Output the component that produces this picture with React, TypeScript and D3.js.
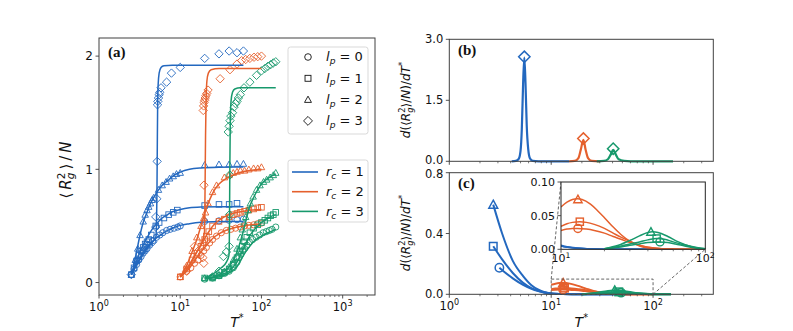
import React from 'react';
import * as d3 from 'd3';

type P = [number, number];
type Shape = 'circle' | 'square' | 'triangle' | 'diamond';

const BLUE = '#2368bf';
const ORANGE = '#e5602d';
const GREEN = '#17996c';
const AXIS = '#404040';
const FONT = 'DejaVu Sans, sans-serif';

// ---------- panel (a): <Rg^2>/N vs T*, fitted curves ----------
const fitA_r1_lp0: P[] = [[2.5, 0.07], [2.8, 0.14], [3.2, 0.22], [3.6, 0.28], [4, 0.32], [4.5, 0.36], [5, 0.39], [6, 0.43], [7, 0.46], [8, 0.48], [10, 0.505], [13, 0.52], [18, 0.533], [25, 0.538], [40, 0.54], [60, 0.54]];
const fitA_r1_lp1: P[] = [[2.5, 0.07], [2.8, 0.16], [3.2, 0.27], [3.6, 0.35], [4, 0.41], [4.5, 0.47], [5, 0.51], [6, 0.57], [7, 0.6], [8, 0.625], [10, 0.645], [13, 0.66], [18, 0.667], [30, 0.67], [60, 0.67]];
const fitA_r1_lp2: P[] = [[2.5, 0.07], [2.7, 0.16], [2.9, 0.27], [3.2, 0.42], [3.5, 0.53], [3.8, 0.6], [4.2, 0.68], [4.7, 0.75], [5.3, 0.81], [6, 0.86], [7, 0.9], [8.5, 0.95], [10, 0.975], [13, 1.0], [18, 1.012], [30, 1.018], [60, 1.02]];
const fitA_r1_lp3: P[] = [[2.5, 0.07], [3, 0.17], [3.5, 0.25], [4, 0.31], [4.6, 0.36], [5.0, 0.4], [5.1, 0.5], [5.17, 0.8], [5.22, 1.2], [5.27, 1.55], [5.35, 1.75], [5.5, 1.85], [5.8, 1.9], [6.3, 1.915], [8, 1.92], [20, 1.92], [60, 1.92]];

const fitA_r2_lp0: P[] = [[10, 0.05], [12, 0.1], [14, 0.16], [16, 0.22], [18, 0.27], [20, 0.31], [23, 0.36], [26, 0.4], [30, 0.43], [35, 0.455], [40, 0.47], [50, 0.49], [60, 0.5], [75, 0.51], [100, 0.52]];
const fitA_r2_lp1: P[] = [[10, 0.05], [12, 0.12], [14, 0.2], [16, 0.27], [18, 0.33], [20, 0.39], [23, 0.46], [26, 0.51], [30, 0.55], [35, 0.58], [40, 0.6], [50, 0.62], [60, 0.63], [75, 0.64], [100, 0.645]];
const fitA_r2_lp2: P[] = [[10, 0.05], [12, 0.15], [14, 0.27], [16, 0.38], [18, 0.5], [20, 0.61], [23, 0.73], [26, 0.81], [30, 0.87], [37, 0.92], [45, 0.95], [60, 0.98], [80, 0.995], [100, 1.0]];
const fitA_r2_lp3: P[] = [[10, 0.05], [13, 0.15], [16, 0.27], [19, 0.38], [19.9, 0.45], [20.2, 0.8], [20.5, 1.3], [20.8, 1.6], [21.3, 1.78], [22.2, 1.85], [24, 1.88], [30, 1.89], [100, 1.89]];

const fitA_r3_lp0: P[] = [[20, 0.03], [25, 0.04], [30, 0.05], [35, 0.065], [40, 0.085], [45, 0.11], [50, 0.14], [55, 0.19], [60, 0.24], [65, 0.28], [70, 0.31], [80, 0.36], [90, 0.39], [100, 0.41], [120, 0.44], [150, 0.47]];
const fitA_r3_lp1: P[] = [[20, 0.04], [25, 0.045], [30, 0.06], [35, 0.08], [40, 0.1], [45, 0.14], [50, 0.18], [55, 0.24], [60, 0.3], [65, 0.35], [70, 0.4], [80, 0.46], [90, 0.5], [100, 0.53], [120, 0.57], [150, 0.6]];
const fitA_r3_lp2: P[] = [[20, 0.04], [25, 0.05], [30, 0.07], [35, 0.1], [40, 0.14], [45, 0.2], [50, 0.27], [55, 0.36], [60, 0.46], [65, 0.56], [70, 0.65], [80, 0.75], [90, 0.82], [100, 0.87], [120, 0.92], [150, 0.96]];
const fitA_r3_lp3: P[] = [[20, 0.04], [26, 0.08], [32, 0.13], [37, 0.18], [39.8, 0.24], [40.4, 0.5], [40.8, 1.0], [41.3, 1.4], [42.2, 1.6], [44, 1.68], [47, 1.71], [55, 1.72], [150, 1.72]];

// ---------- panel (a): simulation points ----------
const datA_r1_lp0: P[] = [[2.5, 0.07], [2.7, 0.12], [2.9, 0.16], [3.1, 0.2], [3.3, 0.23], [3.5, 0.26], [3.7, 0.28], [3.9, 0.3], [4.2, 0.33], [4.6, 0.37], [5.1, 0.4], [5.6, 0.42], [6.1, 0.44], [6.8, 0.46], [7.5, 0.47], [8.4, 0.48], [9.3, 0.49], [10, 0.5], [20, 0.54], [30, 0.545], [40, 0.55], [50, 0.555], [60, 0.56]];
const datA_r1_lp1: P[] = [[2.5, 0.07], [2.7, 0.13], [2.9, 0.19], [3.1, 0.24], [3.3, 0.28], [3.5, 0.31], [3.7, 0.34], [3.9, 0.36], [4.1, 0.38], [4.4, 0.42], [5.0, 0.5], [5.5, 0.53], [6.3, 0.57], [7.2, 0.6], [8.2, 0.62], [9.2, 0.64], [20, 0.68], [30, 0.69], [40, 0.69], [50, 0.7]];
const datA_r1_lp2: P[] = [[2.5, 0.07], [2.8, 0.2], [3.0, 0.3], [3.2, 0.42], [3.5, 0.54], [3.7, 0.6], [3.9, 0.64], [4.1, 0.67], [4.3, 0.7], [4.5, 0.73], [4.7, 0.75], [5.4, 0.82], [6.0, 0.86], [6.7, 0.89], [7.4, 0.92], [8.2, 0.94], [9.0, 0.96], [10, 0.97], [20, 1.04], [30, 1.045], [40, 1.045], [50, 1.05], [60, 1.05]];
const datA_r1_lp3: P[] = [[2.5, 0.07], [3.0, 0.2], [3.5, 0.28], [4.0, 0.33], [4.6, 0.36], [5.0, 0.49], [5.0, 0.58], [5.15, 0.74], [5.2, 1.07], [5.25, 1.57], [5.3, 1.6], [5.4, 1.63], [5.5, 1.66], [5.6, 1.68], [5.8, 1.72], [6.8, 1.77], [7.8, 1.85], [10, 1.9], [20, 1.98], [30, 2.02], [40, 2.045], [50, 2.03], [60, 2.045]];

const datA_r2_lp0: P[] = [[10, 0.05], [12, 0.1], [13.5, 0.13], [15, 0.17], [16.5, 0.2], [18, 0.24], [19.5, 0.28], [21, 0.31], [23, 0.35], [25, 0.38], [28, 0.41], [32, 0.44], [37, 0.46], [42, 0.47], [48, 0.48], [55, 0.49], [62, 0.5], [70, 0.505], [80, 0.51], [90, 0.52], [100, 0.525]];
const datA_r2_lp1: P[] = [[10, 0.05], [12, 0.12], [14, 0.2], [16, 0.26], [18, 0.32], [19, 0.35], [20, 0.38], [21, 0.41], [22.5, 0.45], [25, 0.5], [30, 0.54], [35, 0.56], [40, 0.58], [45, 0.6], [50, 0.61], [55, 0.62], [62, 0.63], [70, 0.64], [80, 0.65], [90, 0.66], [100, 0.665]];
const datA_r2_lp2: P[] = [[10, 0.05], [12, 0.15], [14, 0.28], [16, 0.4], [18, 0.5], [19.5, 0.57], [20.5, 0.62], [22, 0.7], [25, 0.8], [28, 0.86], [35, 0.93], [40, 0.95], [45, 0.97], [50, 0.98], [55, 0.99], [62, 0.99], [70, 1.0], [80, 1.01], [90, 1.01], [100, 1.02]];
const datA_r2_lp3: P[] = [[12, 0.1], [15, 0.32], [17, 0.25], [19, 0.22], [19.5, 0.17], [19.6, 0.86], [19.2, 1.52], [19.4, 1.56], [19.7, 1.59], [20, 1.61], [20.3, 1.63], [20.7, 1.65], [21.2, 1.67], [22, 1.7], [31, 1.8], [41, 1.88], [50, 1.93], [57, 1.96], [64, 1.97], [72, 1.98], [81, 1.99], [90, 1.995], [100, 2.0]];

const datA_r3_lp0: P[] = [[20, 0.03], [25, 0.04], [30, 0.06], [35, 0.08], [40, 0.1], [45, 0.13], [50, 0.18], [53, 0.22], [56, 0.25], [59, 0.28], [62, 0.3], [66, 0.33], [71, 0.36], [78, 0.38], [86, 0.4], [95, 0.42], [105, 0.44], [115, 0.45], [125, 0.46], [135, 0.47], [150, 0.49]];
const datA_r3_lp1: P[] = [[20, 0.04], [25, 0.04], [30, 0.06], [35, 0.09], [40, 0.12], [45, 0.16], [50, 0.22], [54, 0.28], [58, 0.32], [62, 0.36], [66, 0.4], [72, 0.44], [80, 0.48], [90, 0.51], [100, 0.53], [110, 0.55], [120, 0.57], [130, 0.59], [140, 0.6], [150, 0.62]];
const datA_r3_lp2: P[] = [[20, 0.04], [25, 0.05], [30, 0.07], [35, 0.1], [40, 0.14], [45, 0.2], [50, 0.3], [55, 0.4], [58, 0.47], [61, 0.53], [64, 0.58], [68, 0.64], [73, 0.7], [79, 0.76], [87, 0.82], [96, 0.86], [106, 0.89], [116, 0.91], [128, 0.93], [140, 0.95], [150, 0.97]];
const datA_r3_lp3: P[] = [[25, 0.05], [30, 0.1], [34, 0.23], [37, 0.27], [40, 0.32], [40.5, 0.6], [40.8, 0.95], [39, 1.33], [40, 1.38], [41, 1.43], [42, 1.47], [44, 1.5], [46, 1.55], [48, 1.58], [50, 1.6], [52, 1.63], [55, 1.66], [61, 1.72], [72, 1.77], [87, 1.83], [100, 1.87], [110, 1.89], [120, 1.91], [130, 1.925], [140, 1.94], [150, 1.95]];

// ---------- panel (b): derivative, l_p = 3 ----------
const curveB_r1: P[] = [[4.1, 0], [4.5, 0.01], [4.8, 0.06], [5.0, 0.25], [5.15, 0.8], [5.3, 1.9], [5.45, 2.55], [5.6, 1.9], [5.75, 0.9], [5.95, 0.3], [6.2, 0.07], [6.6, 0.01], [7.5, 0], [15, 0]];
const curveB_r2: P[] = [[15, 0], [17, 0.01], [18.5, 0.08], [19.5, 0.28], [20.7, 0.53], [21.8, 0.28], [23, 0.08], [25, 0.01], [30, 0]];
const curveB_r3: P[] = [[28, 0], [33, 0.01], [36, 0.05], [38.5, 0.17], [40.6, 0.28], [43, 0.17], [46, 0.05], [52, 0.01], [60, 0], [157, 0]];
const peakB: P[] = [[5.45, 2.57], [20.7, 0.56], [40.6, 0.31]];

// ---------- panel (c): derivative, l_p = 0,1,2 ----------
const curveC_r1_lp0: P[] = [[3.1, 0.175], [3.5, 0.145], [4.2, 0.105], [5.3, 0.062], [6.4, 0.036], [7.5, 0.021], [8.5, 0.012], [10, 0.005], [13, 0.0015], [20, 0], [60, 0]];
const curveC_r1_lp1: P[] = [[2.7, 0.316], [3.3, 0.23], [4.2, 0.14], [5.3, 0.075], [6.4, 0.04], [7.5, 0.022], [8.5, 0.012], [10, 0.005], [13, 0.0015], [20, 0], [60, 0]];
const curveC_r1_lp2: P[] = [[2.7, 0.59], [3.3, 0.4], [4.2, 0.22], [5.3, 0.12], [6.4, 0.06], [7.5, 0.03], [8.5, 0.015], [10, 0.006], [13, 0.002], [20, 0], [60, 0]];
const curveC_r2_lp0: P[] = [[10, 0.028], [11, 0.03], [12, 0.031], [13, 0.031], [15, 0.03], [17, 0.028], [20, 0.024], [23, 0.019], [26, 0.015], [30, 0.01], [35, 0.006], [40, 0.003], [50, 0.001], [100, 0]];
const curveC_r2_lp1: P[] = [[10, 0.034], [11, 0.038], [12, 0.04], [13.5, 0.041], [15, 0.04], [17, 0.037], [20, 0.031], [23, 0.024], [26, 0.018], [30, 0.012], [35, 0.006], [40, 0.003], [50, 0.001], [100, 0]];
const curveC_r2_lp2: P[] = [[10, 0.063], [11, 0.07], [12, 0.074], [13, 0.075], [14, 0.074], [16, 0.067], [18, 0.057], [20, 0.047], [23, 0.033], [26, 0.022], [30, 0.012], [35, 0.005], [40, 0.002], [50, 0.0005], [100, 0]];
const curveC_r3_lp0: P[] = [[20, 0.0005], [25, 0.003], [30, 0.006], [35, 0.008], [40, 0.01], [48, 0.011], [55, 0.01], [62, 0.008], [72, 0.005], [85, 0.002], [100, 0.0005], [150, 0]];
const curveC_r3_lp1: P[] = [[20, 0.001], [25, 0.004], [30, 0.008], [35, 0.011], [40, 0.014], [46, 0.016], [52, 0.015], [60, 0.011], [70, 0.007], [85, 0.003], [100, 0.001], [150, 0]];
const curveC_r3_lp2: P[] = [[20, 0.001], [25, 0.006], [30, 0.013], [35, 0.02], [40, 0.025], [43, 0.026], [47, 0.025], [55, 0.019], [65, 0.011], [80, 0.004], [100, 0.001], [150, 0]];
const peakC_r1: P[] = [[3.1, 0.175], [2.7, 0.316], [2.7, 0.59]];
const peakC_r2: P[] = [[13.1, 0.031], [13.5, 0.041], [13.1, 0.0743]];
const peakC_r3: P[] = [[48.5, 0.011], [46, 0.016], [42, 0.026]];

// ---------- ticks & legend text ----------
const aXTicks = [1, 10, 100, 1000];
const aXExp = ['0', '1', '2', '3'];
const aYTicks = [0, 1, 2];
const aYLabels = ['0', '1', '2'];
const bYTicks = [0, 1.5, 3];
const bYLabels = ['0.0', '1.5', '3.0'];
const cXTicks = [1, 10, 100];
const cXExp = ['0', '1', '2'];
const cYTicks = [0, 0.4, 0.8];
const cYLabels = ['0.0', '0.4', '0.8'];
const iXTicks = [10, 100];
const iXExp = ['1', '2'];
const iYTicks = [0, 0.05, 0.1];
const iYLabels = ['0.00', '0.05', '0.10'];
const lpLabels = ['0', '1', '2', '3'];
const rcLabels = ['1', '2', '3'];

const shapes: Shape[] = ['circle', 'square', 'triangle', 'diamond'];
const colors = [BLUE, ORANGE, GREEN];

const panelA = [
  { color: BLUE, fits: [fitA_r1_lp0, fitA_r1_lp1, fitA_r1_lp2, fitA_r1_lp3], data: [datA_r1_lp0, datA_r1_lp1, datA_r1_lp2, datA_r1_lp3] },
  { color: ORANGE, fits: [fitA_r2_lp0, fitA_r2_lp1, fitA_r2_lp2, fitA_r2_lp3], data: [datA_r2_lp0, datA_r2_lp1, datA_r2_lp2, datA_r2_lp3] },
  { color: GREEN, fits: [fitA_r3_lp0, fitA_r3_lp1, fitA_r3_lp2, fitA_r3_lp3], data: [datA_r3_lp0, datA_r3_lp1, datA_r3_lp2, datA_r3_lp3] },
];
const panelB = [curveB_r1, curveB_r2, curveB_r3];
const panelC = [
  { color: BLUE, curves: [curveC_r1_lp0, curveC_r1_lp1, curveC_r1_lp2], peaks: peakC_r1 },
  { color: ORANGE, curves: [curveC_r2_lp0, curveC_r2_lp1, curveC_r2_lp2], peaks: peakC_r2 },
  { color: GREEN, curves: [curveC_r3_lp0, curveC_r3_lp1, curveC_r3_lp2], peaks: peakC_r3 },
];

function Marker({ shape, x, y, r, color, sw }: { shape: Shape; x: number; y: number; r: number; color: string; sw: number }) {
  const common = { fill: 'none', stroke: color, strokeWidth: sw };
  if (shape === 'circle') return <circle cx={x} cy={y} r={r} {...common} />;
  if (shape === 'square') return <rect x={x - r * 0.9} y={y - r * 0.9} width={r * 1.8} height={r * 1.8} {...common} />;
  if (shape === 'triangle')
    return <path d={`M${x},${y - r * 1.05}L${x + r * 1.05},${y + r * 0.85}L${x - r * 1.05},${y + r * 0.85}Z`} {...common} />;
  const d = r * 1.35;
  return <path d={`M${x},${y - d}L${x + d},${y}L${x},${y + d}L${x - d},${y}Z`} {...common} />;
}

function LogXAxis({ scale, y, majors, exps, labels, fs, gap = 16 }: any) {
  const all: number[] = scale.ticks();
  return (
    <g>
      {all.map((v, i) => {
        const isMajor = majors.some((m: number) => Math.abs(m - v) < 1e-9);
        return <line key={i} x1={scale(v)} x2={scale(v)} y1={y} y2={y + (isMajor ? 3.5 : 2)} stroke={AXIS} strokeWidth={isMajor ? 0.9 : 0.7} />;
      })}
      {labels &&
        majors.map((m: number, i: number) => (
          <text key={'l' + i} x={scale(m)} y={y + gap} textAnchor="middle" fontSize={fs} fontFamily={FONT} fill="#111">
            10<tspan fontSize={fs * 0.7} dy={-fs * 0.42}>{exps[i]}</tspan>
          </text>
        ))}
    </g>
  );
}

function YAxis({ scale, x, ticks, labels, fs, nudge }: any) {
  return (
    <g>
      {ticks.map((t: number, i: number) => (
        <g key={i}>
          <line x1={x - 3.5} x2={x} y1={scale(t)} y2={scale(t)} stroke={AXIS} strokeWidth={0.9} />
          <text x={x - 6} y={scale(t) + (nudge ? nudge[i] : 0)} dy="0.36em" textAnchor="end" fontSize={fs} fontFamily={FONT} fill="#111">
            {labels[i]}
          </text>
        </g>
      ))}
    </g>
  );
}

function rgParts(fs: number, k: string, gap = 0) {
  return [
    <tspan key={k + 'a'}>⟨</tspan>,
    <tspan key={k + 'b'} fontStyle="italic" dx={gap}>R</tspan>,
    <tspan key={k + 'c'} fontStyle="italic" fontSize={fs * 0.7} dy={fs * 0.22}>g</tspan>,
    <tspan key={k + 'd'} fontSize={fs * 0.7} dx={-fs * 0.44} dy={-fs * 0.62}>2</tspan>,
    <tspan key={k + 'e'} dy={fs * 0.4} dx={gap}>⟩</tspan>,
    <tspan key={k + 'g'} dx={gap}>/</tspan>,
    <tspan key={k + 'f'} fontStyle="italic" dx={gap}>N</tspan>,
  ];
}

function DerivLabel({ cx, cy, fs }: { cx: number; cy: number; fs: number }) {
  return (
    <text transform={`translate(${cx},${cy}) rotate(-90)`} textAnchor="middle" fontSize={fs} fontFamily={FONT} fill="#111">
      <tspan fontStyle="italic">d</tspan>
      <tspan>(</tspan>
      {rgParts(fs, 'd')}
      <tspan>)/</tspan>
      <tspan fontStyle="italic">dT</tspan>
      <tspan fontSize={fs * 0.7} dy={-fs * 0.4}>*</tspan>
    </text>
  );
}

function TLabel({ x, y, fs }: { x: number; y: number; fs: number }) {
  return (
    <text x={x} y={y} textAnchor="middle" fontSize={fs} fontFamily={FONT} fill="#111">
      <tspan fontStyle="italic">T</tspan>
      <tspan fontSize={fs * 0.7} dy={-fs * 0.4}>*</tspan>
    </text>
  );
}

function SubLabel({ x, y, sym, sub, val, fs }: any) {
  return (
    <text x={x} y={y} dy="0.33em" fontSize={fs} fontFamily={FONT} fill="#111">
      <tspan fontStyle="italic">{sym}</tspan>
      <tspan fontStyle="italic" fontSize={fs * 0.7} dy={fs * 0.22}>{sub}</tspan>
      <tspan dy={-fs * 0.22}>{` = ${val}`}</tspan>
    </text>
  );
}

export default function App() {
  const xA = d3.scaleLog().domain([1, 2500]).range([99, 375]);
  const yA = d3.scaleLinear().domain([-0.11, 2.16]).range([295, 38]);
  const xB = d3.scaleLog().domain([1, 390]).range([449.3, 713.3]);
  const yB = d3.scaleLinear().domain([0, 3]).range([161.3, 39.3]);
  const yC = d3.scaleLinear().domain([0, 0.8]).range([294.3, 172.7]);
  const xI = d3.scaleLog().domain([10, 100]).range([561, 705.3]);
  const yI = d3.scaleLinear().domain([0, 0.1]).range([249.3, 182]);

  const lineOf = (xs: any, ys: any) =>
    d3.line<P>().x((d) => xs(d[0])).y((d) => ys(d[1])).curve(d3.curveMonotoneX);
  const lineA = lineOf(xA, yA);
  const lineB = lineOf(xB, yB);
  const lineC = lineOf(xB, yC);
  const lineI = lineOf(xI, yI);

  const [ax0, ax1] = xA.range();
  const [ay1, ay0] = yA.range();
  const [bx0, bx1] = xB.range();
  const [ix0, ix1] = xI.range();
  const [iy1, iy0] = yI.range();

  return (
    <svg width={793} height={331} style={{ position: 'absolute', left: 0, top: 0, background: '#fff' }}>
      <defs>
        <clipPath id="clipI">
          <rect x={ix0} y={iy0} width={ix1 - ix0} height={iy1 - iy0} />
        </clipPath>
      </defs>

      {/* ---------------- panel (a) ---------------- */}
      {panelA.map((g, gi) => (
        <g key={'am' + gi}>
          {g.data.map((pts, si) =>
            pts.map((p, pi) => (
              <Marker key={si + '-' + pi} shape={shapes[si]} x={xA(p[0])} y={yA(p[1])} r={3.1} color={g.color} sw={0.9} />
            ))
          )}
        </g>
      ))}
      {panelA.map((g, gi) => (
        <g key={'af' + gi}>
          {g.fits.map((f, si) => (
            <path key={si} d={lineA(f) || ''} fill="none" stroke={g.color} strokeWidth={1.5} />
          ))}
        </g>
      ))}
      <rect x={ax0} y={ay0} width={ax1 - ax0} height={ay1 - ay0} fill="none" stroke={AXIS} strokeWidth={1} />
      <LogXAxis scale={xA} y={ay1} majors={aXTicks} exps={aXExp} labels fs={11.5} />
      <YAxis scale={yA} x={ax0} ticks={aYTicks} labels={aYLabels} fs={12} />
      <TLabel x={(ax0 + ax1) / 2} y={327} fs={14} />
      <text transform="translate(71,170) rotate(-90)" textAnchor="middle" fontSize={15} fontFamily={FONT} fill="#111">
        {rgParts(15, 'a', 3)}
      </text>
      <text x={108} y={57} fontSize={15} fontWeight="bold" fontFamily="Liberation Serif, serif" fill="#111">(a)</text>

      {/* legends */}
      <rect x={288} y={47} width={80} height={87} rx={2.5} fill="#fff" fillOpacity={0.85} stroke="#cfcfcf" strokeWidth={0.8} />
      {shapes.map((s, i) => (
        <g key={'lg1' + i}>
          <Marker shape={s} x={308} y={57 + i * 21.3} r={3.3} color="#111" sw={0.9} />
          <SubLabel x={326} y={57 + i * 21.3} sym="l" sub="p" val={lpLabels[i]} fs={13} />
        </g>
      ))}
      <rect x={288} y={160} width={80} height={62} rx={2.5} fill="#fff" fillOpacity={0.85} stroke="#cfcfcf" strokeWidth={0.8} />
      {colors.map((c, i) => (
        <g key={'lg2' + i}>
          <line x1={292} x2={318} y1={172 + i * 19.7} y2={172 + i * 19.7} stroke={c} strokeWidth={1.6} />
          <SubLabel x={326} y={172 + i * 19.7} sym="r" sub="c" val={rcLabels[i]} fs={13} />
        </g>
      ))}

      {/* ---------------- panel (b) ---------------- */}
      {panelB.map((cv, i) => (
        <path key={'b' + i} d={lineB(cv) || ''} fill="none" stroke={colors[i]} strokeWidth={2.2} />
      ))}
      {peakB.map((p, i) => (
        <Marker key={'bp' + i} shape="diamond" x={xB(p[0])} y={yB(p[1])} r={4.2} color={colors[i]} sw={1.5} />
      ))}
      <rect x={bx0} y={yB(3)} width={bx1 - bx0} height={yB(0) - yB(3)} fill="none" stroke={AXIS} strokeWidth={1} />
      <LogXAxis scale={xB} y={yB(0)} majors={cXTicks} exps={cXExp} labels={false} fs={11.5} />
      <YAxis scale={yB} x={bx0} ticks={bYTicks} labels={bYLabels} fs={11.5} nudge={[-1.5, 0, 0]} />
      <DerivLabel cx={410} cy={100} fs={12} />
      <text x={458} y={55} fontSize={15} fontWeight="bold" fontFamily="Liberation Serif, serif" fill="#111">(b)</text>

      {/* ---------------- panel (c) ---------------- */}
      {panelC.map((g, gi) => (
        <g key={'c' + gi}>
          {g.curves.map((cv, si) => (
            <path key={si} d={lineC(cv) || ''} fill="none" stroke={g.color} strokeWidth={2} />
          ))}
          {g.peaks.map((p, si) => (
            <Marker key={'m' + si} shape={shapes[si]} x={xB(p[0])} y={yC(p[1])} r={4.2} color={g.color} sw={1.5} />
          ))}
        </g>
      ))}
      <rect x={bx0} y={yC(0.8)} width={bx1 - bx0} height={yC(0) - yC(0.8)} fill="none" stroke={AXIS} strokeWidth={1} />
      <LogXAxis scale={xB} y={yC(0)} majors={cXTicks} exps={cXExp} labels fs={11.5} />
      <YAxis scale={yC} x={bx0} ticks={cYTicks} labels={cYLabels} fs={11.5} nudge={[0, 0, 1.5]} />
      <DerivLabel cx={410} cy={233} fs={12} />
      <TLabel x={(bx0 + bx1) / 2} y={327} fs={14} />
      <text x={458} y={188} fontSize={15} fontWeight="bold" fontFamily="Liberation Serif, serif" fill="#111">(c)</text>

      {/* zoom box and connectors */}
      <g fill="none" stroke="#555" strokeWidth={0.9} strokeDasharray="3,2">
        <rect x={xB(10)} y={yC(0.1)} width={xB(100) - xB(10)} height={yC(0) - yC(0.1)} />
        <line x1={xB(10)} y1={yC(0.1)} x2={ix0} y2={iy0} />
        <line x1={xB(100)} y1={yC(0)} x2={ix1} y2={iy1} />
      </g>

      {/* inset */}
      <rect x={ix0} y={iy0} width={ix1 - ix0} height={iy1 - iy0} fill="#fff" />
      <g clipPath="url(#clipI)">
        {panelC.map((g, gi) => (
          <g key={'i' + gi}>
            {g.curves.map((cv, si) => (
              <path key={si} d={lineI(cv) || ''} fill="none" stroke={g.color} strokeWidth={1.5} />
            ))}
            {g.peaks.map((p, si) => (
              <Marker key={'m' + si} shape={shapes[si]} x={xI(p[0])} y={yI(p[1])} r={4} color={g.color} sw={1.4} />
            ))}
          </g>
        ))}
      </g>
      <rect x={ix0} y={iy0} width={ix1 - ix0} height={iy1 - iy0} fill="none" stroke="#222" strokeWidth={1} />
      <LogXAxis scale={xI} y={iy1} majors={iXTicks} exps={iXExp} labels fs={11} gap={13} />
      <YAxis scale={yI} x={ix0} ticks={iYTicks} labels={iYLabels} fs={11} />
    </svg>
  );
}
